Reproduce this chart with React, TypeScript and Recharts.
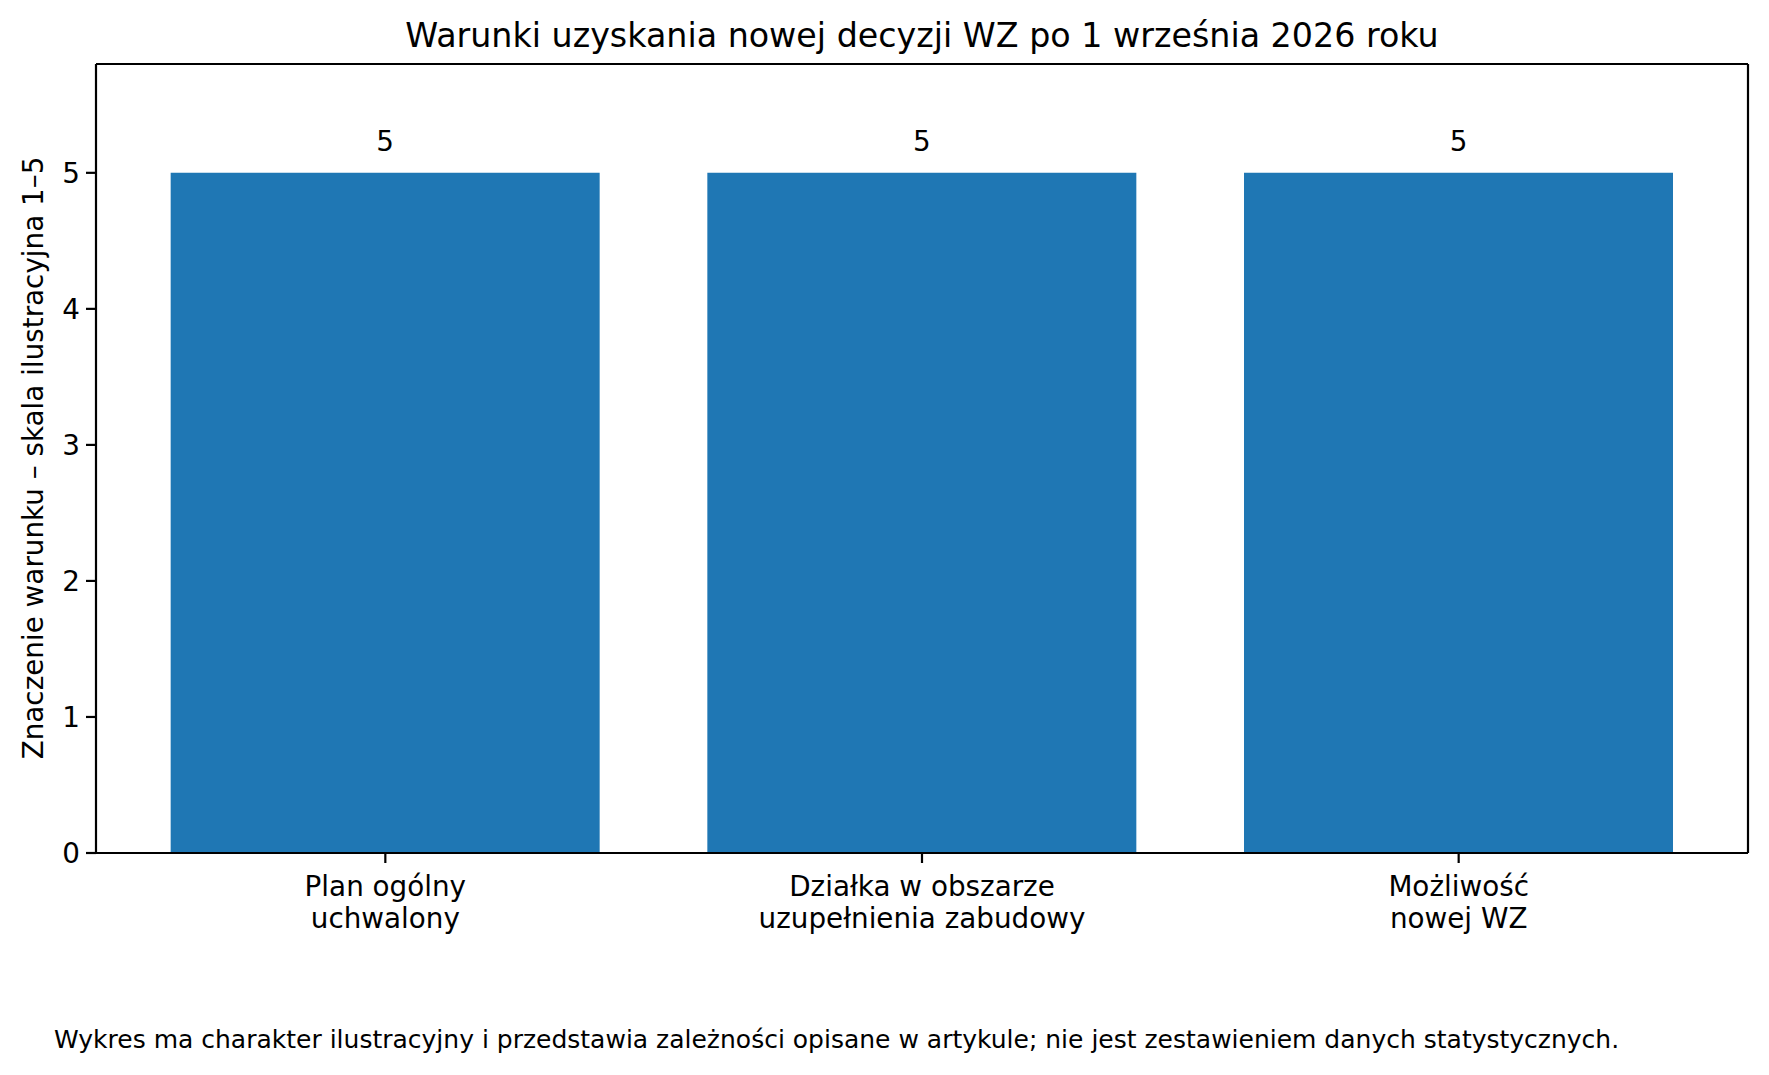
import { BarChart, Bar, XAxis, YAxis, LabelList } from "recharts";

const categories = [
  "Plan ogólny\nuchwalony",
  "Działka w obszarze\nuzupełnienia zabudowy",
  "Możliwość\nnowej WZ",
];
const values = [5, 5, 5];
const yTicks = [0, 1, 2, 3, 4, 5];

const title = "Warunki uzyskania nowej decyzji WZ po 1 września 2026 roku";
const yLabel = "Znaczenie warunku – skala ilustracyjna 1–5";
const footnote =
  "Wykres ma charakter ilustracyjny i przedstawia zależności opisane w artykule; nie jest zestawieniem danych statystycznych.";

const data = categories.map((name, i) => ({ name, value: values[i] }));

const FONT = "'DejaVu Sans', sans-serif";
const TICK_PX = 27.8;
const axisStroke = { stroke: "#000", strokeWidth: 2.2 };

function CategoryTick({ x, y, payload }: any) {
  const lines = String(payload.value).split("\n");
  return (
    <text x={x} y={y} textAnchor="middle" fill="#000" fontSize={TICK_PX} fontFamily={FONT}>
      {lines.map((line, i) => (
        <tspan key={i} x={x} dy={i === 0 ? 31 : 32}>
          {line}
        </tspan>
      ))}
    </text>
  );
}

export default function App() {
  return (
    <div
      style={{
        position: "absolute",
        left: 0,
        top: 0,
        width: 1769,
        height: 1075,
        background: "#fff",
        fontFamily: FONT,
      }}
    >
      <div
        style={{
          position: "absolute",
          left: 922,
          top: 16,
          transform: "translateX(-50%)",
          whiteSpace: "nowrap",
          fontSize: 33.3,
          lineHeight: "40px",
          color: "#000",
        }}
      >
        {title}
      </div>

      <div
        style={{
          position: "absolute",
          left: 34,
          top: 458,
          transform: "translate(-50%, -50%) rotate(-90deg)",
          whiteSpace: "nowrap",
          fontSize: TICK_PX,
          lineHeight: "32px",
          color: "#000",
        }}
      >
        {yLabel}
      </div>

      <BarChart
        width={1769}
        height={1075}
        data={data}
        margin={{ top: 63, right: 20, bottom: 122, left: 36 }}
        barCategoryGap="10%"
      >
        <XAxis
          xAxisId="main"
          dataKey="name"
          height={100}
          padding={{ left: 21, right: 21 }}
          axisLine={axisStroke}
          tickLine={axisStroke}
          tickSize={10}
          interval={0}
          tick={<CategoryTick />}
        />
        <XAxis
          xAxisId="top"
          orientation="top"
          height={1}
          axisLine={axisStroke}
          tickLine={false}
          tick={false}
        />
        <YAxis
          yAxisId="main"
          width={60}
          domain={[0, 5.8]}
          ticks={yTicks}
          axisLine={axisStroke}
          tickLine={axisStroke}
          tickSize={10}
          tickMargin={6}
          tick={{ fill: "#000", fontSize: TICK_PX, fontFamily: FONT }}
        />
        <YAxis
          yAxisId="right"
          orientation="right"
          width={1}
          axisLine={axisStroke}
          tickLine={false}
          tick={false}
        />
        <Bar
          xAxisId="main"
          yAxisId="main"
          dataKey="value"
          fill="#1f77b4"
          isAnimationActive={false}
        >
          <LabelList
            dataKey="value"
            position="top"
            offset={22}
            fill="#000"
            fontSize={TICK_PX}
            fontFamily={FONT}
          />
        </Bar>
      </BarChart>

      <div
        style={{
          position: "absolute",
          left: 54,
          top: 1025,
          whiteSpace: "nowrap",
          fontSize: 25,
          lineHeight: "30px",
          color: "#000",
        }}
      >
        {footnote}
      </div>
    </div>
  );
}
